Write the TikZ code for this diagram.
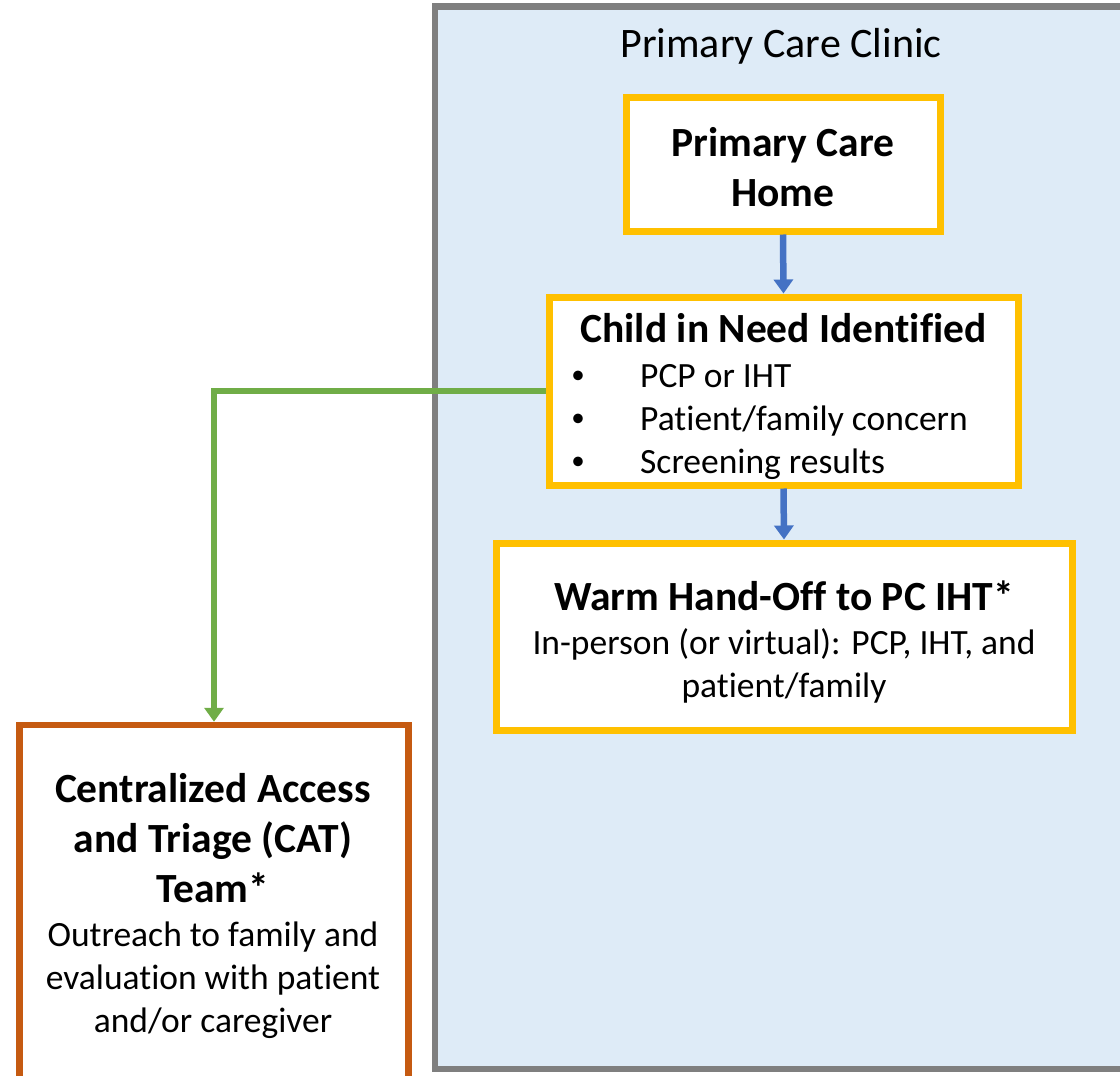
\documentclass[tikz,border=0pt]{standalone}
\usepackage{fontspec}
\setmainfont{Carlito}[Ligatures={TeX,NoCommon}]
\usetikzlibrary{arrows.meta}
\definecolor{clinicfill}{HTML}{DEEBF7}
\definecolor{clinicline}{HTML}{7F7F7F}
\definecolor{boxgold}{HTML}{FFC000}
\definecolor{flowblue}{HTML}{4472C4}
\definecolor{flowgreen}{HTML}{70AD47}
\definecolor{catorange}{HTML}{C55A11}
\newcommand\headfont{\fontsize{42}{50}\selectfont}
\newcommand\titlefont{\bfseries\fontsize{41.5}{50}\selectfont}
\newcommand\bodyfont{\fontsize{35.5}{43}\selectfont}
\newcommand\dotfont{\fontsize{27}{30}\selectfont}
\begin{document}
\begin{tikzpicture}[x=1pt,y=-1pt,
  clinicframe/.style={draw=clinicline, fill=clinicfill, line width=6.5pt, inner sep=0pt},
  goldbox/.style={draw=boxgold, fill=white, line width=7pt, inner sep=0pt},
  catbox/.style={draw=catorange, fill=white, line width=6.5pt, inner sep=0pt},
  txt/.style={inner sep=0pt, anchor=base, align=center},
  txtl/.style={inner sep=0pt, anchor=base west},
  flowarrow/.style={line width=6.5pt, -{Triangle[width=19pt,length=14pt]}},
]
\useasboundingbox (0,0) rectangle (1120,1076);
\clip (0,0) rectangle (1120,1076);

% clinic area (runs off the right edge)
\node[clinicframe, minimum width=765pt, minimum height=1062.5pt] (clinic) at (817.5,537.75) {};
\node[txt, font=\headfont] (clinichead) at (781,57) {Primary Care Clinic};

% boxes
\node[goldbox, minimum width=314pt, minimum height=134pt] (home) at (783,164) {};
\node[goldbox, minimum width=469pt, minimum height=188pt] (need) at (783.5,391) {};
\node[goldbox, minimum width=576pt, minimum height=187pt] (handoff) at (784,636.5) {};
\node[catbox, minimum width=389pt, minimum height=475pt] (cat) at (214,962.5) {};

% box texts (multi-line nodes sit on the baseline of their last line)
\node[txt, font=\titlefont] (hometext) at (783,206) {Primary Care\\Home};

\node[txt, font=\titlefont] (needtitle) at (783.5,342) {Child in Need Identified};
\node[txt, font=\dotfont] (b1) at (578,383) {•};
\node[txt, font=\dotfont] (b2) at (578,426) {•};
\node[txt, font=\dotfont] (b3) at (578,469) {•};
\node[txtl, font=\bodyfont] (i1) at (640,387) {PCP or IHT};
\node[txtl, font=\bodyfont] (i2) at (640,430) {Patient/family concern};
\node[txtl, font=\bodyfont] (i3) at (640,473) {Screening results};

\node[txt, font=\titlefont] (handofftitle) at (784,610) {Warm Hand-Off to PC IHT*};
\node[txt, font=\bodyfont] (handoffbody) at (784,697) {In-person (or virtual): PCP, IHT, and\\patient/family};

\node[txt, font=\titlefont] (cattitle) at (213,902) {Centralized Access\\and Triage (CAT)\\Team*};
\node[txt, font=\bodyfont] (catbody) at (213,1032) {Outreach to family and\\evaluation with patient\\and/or caregiver};

% connectors
\draw[flowarrow, draw=flowblue] (home.south) -- (need.north);
\draw[flowarrow, draw=flowblue] (need.south) -- (handoff.north);
\draw[flowarrow, draw=flowgreen] (need.west) -| (cat.north);
\end{tikzpicture}
\end{document}
